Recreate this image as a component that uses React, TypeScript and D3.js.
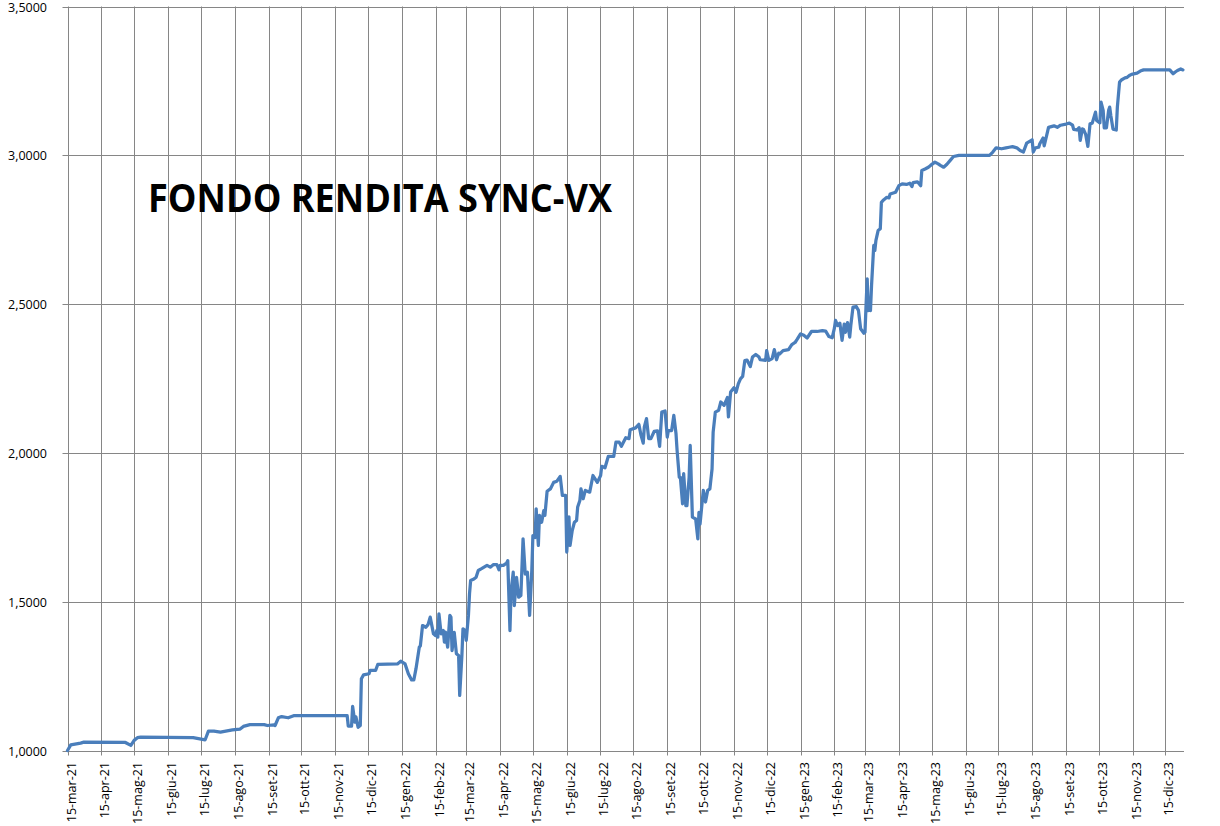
import React from "react";
import * as d3 from "d3";

const title = "FONDO RENDITA SYNC-VX";
const monthNames = ["gen", "feb", "mar", "apr", "mag", "giu", "lug", "ago", "set", "ott", "nov", "dic"];
const yTicks = [1.0, 1.5, 2.0, 2.5, 3.0, 3.5];
const xDomain = ["2021-03-15", "2024-01-01"];
const tickDay = 15;

const dates = [
  "2021-03-15","2021-03-18","2021-03-27","2021-03-30","2021-05-07","2021-05-12","2021-05-15","2021-05-18","2021-05-21","2021-07-08",
  "2021-07-19","2021-07-22","2021-07-27","2021-08-02","2021-08-13","2021-08-20","2021-08-23","2021-08-29","2021-09-11","2021-09-14",
  "2021-09-20","2021-09-21","2021-09-24","2021-09-27","2021-10-03","2021-10-08","2021-11-26","2021-11-27","2021-11-30","2021-12-01",
  "2021-12-03","2021-12-04","2021-12-06","2021-12-08","2021-12-09","2021-12-11","2021-12-16","2021-12-17","2021-12-22","2021-12-24",
  "2022-01-11","2022-01-14","2022-01-18","2022-01-21","2022-01-24","2022-01-26","2022-01-28","2022-01-31","2022-02-01","2022-02-03",
  "2022-02-06","2022-02-08","2022-02-10","2022-02-13","2022-02-15","2022-02-16","2022-02-17","2022-02-18","2022-02-20","2022-02-22",
  "2022-02-23","2022-02-24","2022-02-26","2022-02-28","2022-03-01","2022-03-02","2022-03-04","2022-03-06","2022-03-08","2022-03-09",
  "2022-03-11","2022-03-12","2022-03-14","2022-03-15","2022-03-17","2022-03-18","2022-03-19","2022-03-22","2022-03-24","2022-03-26",
  "2022-03-29","2022-04-03","2022-04-06","2022-04-09","2022-04-12","2022-04-14","2022-04-15","2022-04-18","2022-04-21","2022-04-22",
  "2022-04-24","2022-04-25","2022-04-27","2022-04-28","2022-04-30","2022-05-02","2022-05-04","2022-05-06","2022-05-08","2022-05-10",
  "2022-05-12","2022-05-14","2022-05-15","2022-05-17","2022-05-18","2022-05-20","2022-05-21","2022-05-23","2022-05-25","2022-05-26",
  "2022-05-28","2022-05-31","2022-06-03","2022-06-06","2022-06-09","2022-06-11","2022-06-14","2022-06-15","2022-06-17","2022-06-18",
  "2022-06-20","2022-06-22","2022-06-24","2022-06-25","2022-06-27","2022-06-28","2022-06-30","2022-07-02","2022-07-06","2022-07-09",
  "2022-07-13","2022-07-16","2022-07-17","2022-07-20","2022-07-23","2022-07-28","2022-07-30","2022-08-02","2022-08-04","2022-08-08",
  "2022-08-11","2022-08-12","2022-08-17","2022-08-20","2022-08-22","2022-08-24","2022-08-25","2022-08-27","2022-08-29","2022-08-31",
  "2022-09-03","2022-09-06","2022-09-08","2022-09-10","2022-09-13","2022-09-15","2022-09-16","2022-09-19","2022-09-21","2022-09-23",
  "2022-09-24","2022-09-26","2022-09-27","2022-09-29","2022-09-30","2022-10-02","2022-10-03","2022-10-05","2022-10-06","2022-10-08",
  "2022-10-11","2022-10-13","2022-10-14","2022-10-15","2022-10-18","2022-10-20","2022-10-22","2022-10-24","2022-10-26","2022-10-27",
  "2022-10-29","2022-11-01","2022-11-03","2022-11-06","2022-11-09","2022-11-10","2022-11-12","2022-11-15","2022-11-17","2022-11-19",
  "2022-11-21","2022-11-23","2022-11-25","2022-11-27","2022-11-30","2022-12-02","2022-12-05","2022-12-08","2022-12-09","2022-12-14",
  "2022-12-15","2022-12-17","2022-12-20","2022-12-22","2022-12-24","2022-12-26","2022-12-27","2022-12-30","2023-01-04","2023-01-07",
  "2023-01-10","2023-01-12","2023-01-15","2023-01-18","2023-01-21","2023-01-25","2023-01-30","2023-02-04","2023-02-07","2023-02-10",
  "2023-02-13","2023-02-15","2023-02-16","2023-02-18","2023-02-20","2023-02-22","2023-02-24","2023-02-25","2023-02-27","2023-03-01",
  "2023-03-02","2023-03-04","2023-03-07","2023-03-09","2023-03-11","2023-03-14","2023-03-15","2023-03-16","2023-03-17","2023-03-18",
  "2023-03-19","2023-03-20","2023-03-21","2023-03-23","2023-03-24","2023-03-25","2023-03-27","2023-03-29","2023-03-30","2023-04-01",
  "2023-04-04","2023-04-06","2023-04-07","2023-04-12","2023-04-15","2023-04-18","2023-04-22","2023-04-25","2023-04-27","2023-04-28",
  "2023-05-02","2023-05-05","2023-05-06","2023-05-09","2023-05-12","2023-05-14","2023-05-18","2023-05-21","2023-05-23","2023-05-26",
  "2023-05-29","2023-06-01","2023-06-04","2023-06-09","2023-07-07","2023-07-10","2023-07-13","2023-07-18","2023-07-22","2023-07-25",
  "2023-07-28","2023-08-01","2023-08-04","2023-08-07","2023-08-10","2023-08-15","2023-08-16","2023-08-18","2023-08-21","2023-08-22",
  "2023-08-25","2023-08-26","2023-08-29","2023-08-30","2023-09-04","2023-09-07","2023-09-10","2023-09-15","2023-09-18","2023-09-21",
  "2023-09-22","2023-09-25","2023-09-27","2023-09-28","2023-09-30","2023-10-01","2023-10-03","2023-10-05","2023-10-07","2023-10-09",
  "2023-10-12","2023-10-13","2023-10-16","2023-10-17","2023-10-19","2023-10-20","2023-10-22","2023-10-24","2023-10-25","2023-10-26",
  "2023-10-28","2023-10-31","2023-11-01","2023-11-03","2023-11-05","2023-11-08","2023-11-10","2023-11-12","2023-11-14","2023-11-19",
  "2023-11-22","2023-11-25","2023-12-19","2023-12-22","2023-12-24","2023-12-26","2023-12-29","2023-12-31"
];

const values = [
  1.000,1.019,1.025,1.028,1.027,1.017,1.034,1.043,1.045,1.043,
  1.036,1.065,1.065,1.062,1.069,1.072,1.081,1.087,1.087,1.084,
  1.086,1.084,1.110,1.114,1.110,1.117,1.117,1.082,1.082,1.148,
  1.095,1.113,1.078,1.084,1.241,1.254,1.258,1.269,1.269,1.289,
  1.291,1.300,1.291,1.258,1.237,1.237,1.275,1.347,1.352,1.420,
  1.414,1.423,1.448,1.392,1.386,1.403,1.381,1.459,1.392,1.403,
  1.364,1.398,1.347,1.454,1.448,1.336,1.397,1.325,1.319,1.185,
  1.319,1.409,1.403,1.370,1.454,1.527,1.571,1.576,1.582,1.605,
  1.611,1.622,1.616,1.625,1.625,1.607,1.622,1.622,1.630,1.638,
  1.403,1.532,1.599,1.487,1.582,1.515,1.521,1.711,1.593,1.599,
  1.454,1.605,1.722,1.716,1.812,1.689,1.790,1.767,1.806,1.790,
  1.871,1.879,1.901,1.905,1.921,1.857,1.857,1.667,1.785,1.689,
  1.739,1.767,1.773,1.818,1.840,1.879,1.846,1.874,1.868,1.924,
  1.901,1.924,1.955,1.950,1.988,1.988,2.036,2.036,2.022,2.051,
  2.048,2.078,2.084,2.096,2.059,2.033,2.087,2.115,2.048,2.048,
  2.072,2.074,2.022,2.137,2.141,2.053,2.075,2.075,2.126,2.065,
  2.008,1.918,1.918,1.829,1.930,1.823,1.823,1.918,2.025,1.784,
  1.778,1.711,1.800,1.761,1.874,1.835,1.874,1.879,1.946,2.070,
  2.137,2.143,2.171,2.160,2.186,2.121,2.205,2.219,2.204,2.232,
  2.249,2.257,2.310,2.312,2.290,2.322,2.331,2.322,2.313,2.311,
  2.344,2.311,2.317,2.347,2.313,2.335,2.333,2.344,2.347,2.364,
  2.371,2.382,2.400,2.395,2.386,2.408,2.408,2.411,2.409,2.391,
  2.387,2.419,2.445,2.428,2.436,2.378,2.433,2.405,2.438,2.389,
  2.428,2.490,2.492,2.479,2.417,2.402,2.406,2.499,2.585,2.478,
  2.512,2.478,2.563,2.697,2.680,2.714,2.747,2.753,2.842,2.850,
  2.859,2.857,2.870,2.876,2.898,2.904,2.902,2.906,2.895,2.908,
  2.911,2.898,2.949,2.954,2.960,2.966,2.977,2.971,2.966,2.960,
  2.970,2.983,2.996,3.000,3.000,3.011,3.025,3.022,3.025,3.027,
  3.029,3.025,3.016,3.011,3.041,3.052,3.011,3.025,3.027,3.039,
  3.058,3.032,3.078,3.094,3.099,3.094,3.101,3.105,3.108,3.101,
  3.087,3.085,3.093,3.050,3.089,3.087,3.070,3.030,3.106,3.108,
  3.145,3.117,3.109,3.179,3.151,3.092,3.092,3.151,3.162,3.134,
  3.088,3.085,3.162,3.246,3.254,3.260,3.262,3.268,3.272,3.276,
  3.283,3.287,3.287,3.274,3.280,3.285,3.290,3.287
];

const W = 1220;
const H = 826;
const M = { left: 67.5, right: 1184, top: 6.5, bottom: 750.5 };

export default function App() {
  const parse = d3.timeParse("%Y-%m-%d");
  const data = dates.map((d, i) => ({ date: parse(d) as Date, value: values[i] }));
  const x = d3.scaleTime().domain(xDomain.map((d) => parse(d) as Date)).range([M.left, M.right]);
  const y = d3.scaleLinear().domain([1, 3.5]).range([M.bottom, M.top]);

  const start = parse(xDomain[0]) as Date;
  const end = parse(xDomain[1]) as Date;
  const months = d3.timeMonth.range(d3.timeMonth.floor(start), end);
  const xTicks = months
    .map((m) => new Date(m.getFullYear(), m.getMonth(), tickDay))
    .filter((d) => d >= start && d <= end);
  const fmtX = (d: Date) =>
    `${tickDay}-${monthNames[d.getMonth()]}-${String(d.getFullYear()).slice(2)}`;
  const locale = d3.formatLocale({ decimal: ",", thousands: ".", grouping: [3], currency: ["", "€"] });
  const fmtY = locale.format(".4f");

  const line = d3
    .line<{ date: Date; value: number }>()
    .x((d) => x(d.date))
    .y((d) => y(d.value))
    .curve(d3.curveLinear);

  const grid = "#868686";
  const font = "'Open Sans', 'DejaVu Sans', sans-serif";

  return (
    <svg
      width={W}
      height={H}
      style={{ position: "absolute", left: 0, top: 0, background: "#fff" }}
    >
      <rect x={0} y={0} width={W} height={H} fill="#fff" />
      {yTicks.map((t) => (
        <g key={"y" + t}>
          <line x1={M.left - 5} x2={M.right} y1={Math.round(y(t)) + 0.5} y2={Math.round(y(t)) + 0.5} stroke={grid} strokeWidth={1} />
          <text
            x={47}
            y={Math.round(y(t)) + 0.5}
            dy="0.35em"
            textAnchor="end"
            fontFamily={font}
            fontSize={12.5}
            fill="#000"
          >
            {fmtY(t)}
          </text>
        </g>
      ))}
      {xTicks.map((t) => {
        const px = Math.round(x(t)) + 0.5;
        return (
          <g key={"x" + t.getTime()}>
            <line x1={px} x2={px} y1={M.top} y2={M.bottom + 5} stroke={grid} strokeWidth={1} />
            <text
              transform={`translate(${px + 3},${762}) rotate(-90)`}
              textAnchor="end"
              dy="0.35em"
              fontFamily={font}
              fontSize={12.5}
              fill="#000"
            >
              {fmtX(t)}
            </text>
          </g>
        );
      })}
      <path
        d={line(data) || ""}
        fill="none"
        stroke="#4a7ebb"
        strokeWidth={3.25}
        strokeLinejoin="round"
        strokeLinecap="round"
      />
      <text
        x={148}
        y={212}
        fontFamily={font}
        fontWeight="bold"
        fontSize={39}
        textLength={464}
        lengthAdjust="spacingAndGlyphs"
        fill="#000"
      >
        {title}
      </text>
    </svg>
  );
}
